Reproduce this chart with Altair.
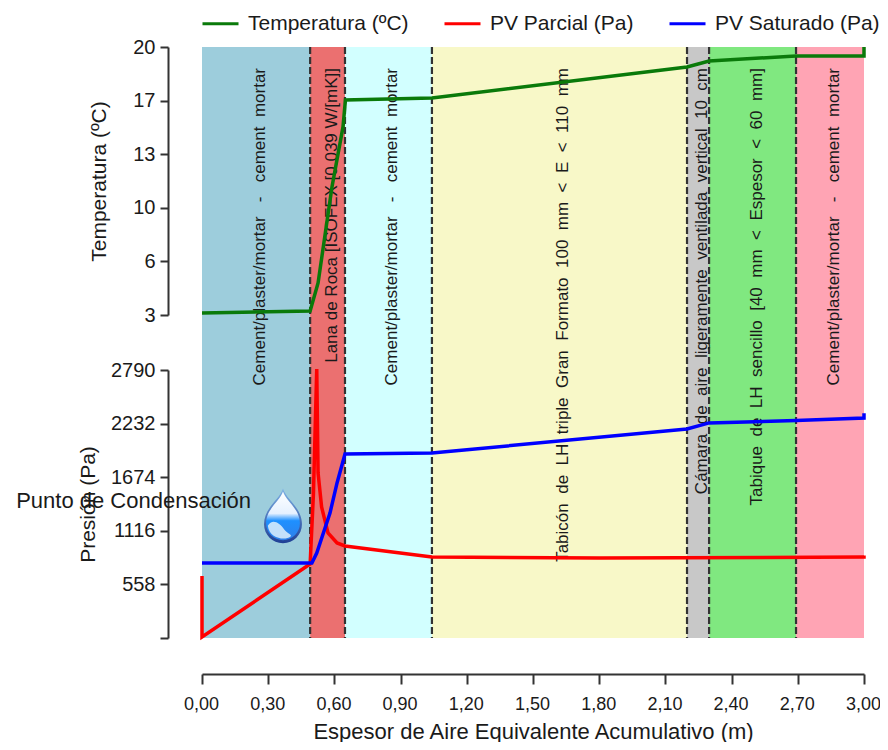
import altair as alt
import pandas as pd

FONT = "Liberation Sans"
INK = "#1a1a1a"
SP = "\u00a0\u00a0"

band_start = [0.0, 0.49, 0.648, 1.042, 2.198, 2.298, 2.692]
band_end = [0.49, 0.648, 1.042, 2.198, 2.298, 2.692, 3.0]
band_colors = ["#9dcddc", "#eb7070", "#d2ffff", "#f8f8c8", "#c8c8c8", "#80e880", "#ffa4b4"]
band_labels = [
    "Cement/plaster/mortar\u00a0\u00a0\u00a0-\u00a0\u00a0\u00a0cement  mortar",
    "Lana de Roca [ISOFEX [0.039 W/[mK]]",
    "Cement/plaster/mortar\u00a0\u00a0\u00a0-\u00a0\u00a0\u00a0cement  mortar",
    "Tabicón  de  LH  triple  Gran  Formato  100  mm  <  E  <  110  mm",
    "Cámara  de  aire  ligeramente  ventilada  vertical  10  cm",
    "Tabique  de  LH  sencillo  [40  mm  <  Espesor  <  60  mm]",
    "Cement/plaster/mortar\u00a0\u00a0\u00a0-\u00a0\u00a0\u00a0cement  mortar",
]
band_labels = [t.replace("  ", SP) for t in band_labels]
boundaries = [0.49, 0.648, 1.042, 2.198, 2.298, 2.692]

temp_x = [0.0, 0.49, 0.526, 0.589, 0.639, 0.65, 1.042, 2.198, 2.298, 2.692, 3.0, 3.0]
temp_y = [3.13, 3.25, 5.03, 11.12, 14.93, 16.64, 16.76, 18.73, 19.11, 19.43, 19.43, 20.0]

parcial_x = [0.0, 0.0, 0.49, 0.505, 0.52, 0.526, 0.542, 0.571, 0.612, 0.648, 1.042, 1.8, 3.0, 3.0]
parcial_y = [645, 10, 770, 1500, 2800, 1718, 1364, 1093, 990, 958, 843, 833, 843, 860]

sat_x = [0.0, 0.498, 0.52, 0.58, 0.612, 0.648, 1.042, 2.198, 2.298, 2.692, 3.0, 3.0]
sat_y = [781, 781, 885, 1301, 1614, 1915, 1926, 2176, 2239, 2264, 2290, 2340]

x_ticks = [0.0, 0.3, 0.6, 0.9, 1.2, 1.5, 1.8, 2.1, 2.4, 2.7, 3.0]
temp_ticks = [3.0, 6.4, 9.8, 13.2, 16.6, 20.0]
pres_ticks = [0, 558, 1116, 1674, 2232, 2790]
series_names = ["Temperatura (ºC)", "PV Parcial (Pa)", "PV Saturado (Pa)"]
series_colors = ["#0a7a0a", "#ff0000", "#0000ff"]

W, H = 662, 591
x_scale = alt.Scale(domain=[0, 3], nice=False, zero=False)
temp_scale = alt.Scale(domain=[3, 20], range=[268, 0], nice=False, zero=False)
pres_scale = alt.Scale(domain=[0, 2790], range=[H, 323], nice=False)
color = alt.Color(
    "series:N",
    scale=alt.Scale(domain=series_names, range=series_colors),
    legend=alt.Legend(
        title=None, orient="none", legendX=-1, legendY=-43, direction="horizontal",
        symbolType="stroke", symbolStrokeWidth=3, symbolSize=1296,
        labelFont=FONT, labelFontSize=21, labelColor=INK, labelOffset=8,
        columnPadding=29, labelLimit=300,
    ),
)

bands = pd.DataFrame({"start": band_start, "end": band_end, "c": band_colors, "t": band_labels,
                      "mid": [(a + b) / 2 for a, b in zip(band_start, band_end)]})
rules = pd.DataFrame({"x": boundaries})


def series_df(xs, ys, name):
    return pd.DataFrame({"x": xs, "y": ys, "series": name, "i": range(len(xs))})


x_axis = alt.Axis(
    values=x_ticks, offset=36, title="Espesor de Aire Equivalente Acumulativo (m)",
    labelExpr="replace(format(datum.value,'.2f'),'.',',')",
    labelFont=FONT, labelFontSize=18, labelColor=INK, titleFont=FONT, titleFontSize=22,
    titleFontWeight="normal", titleColor=INK, domainColor="#333333", domainWidth=2,
    tickColor="#333333", tickWidth=2, tickSize=10, labelPadding=11, titlePadding=8, grid=False,
    labelOverlap=False, labelFlush=False, labelOffset=-1,
)
shared_x = alt.X("x:Q", scale=x_scale, axis=x_axis)

band_layer = alt.Chart(bands).mark_rect(opacity=1).encode(
    x=alt.X("start:Q", scale=x_scale, axis=x_axis),
    x2="end:Q",
    y=alt.value(0),
    y2=alt.value(H),
    fill=alt.Fill("c:N", scale=None),
)
rule_layer = alt.Chart(rules).mark_rule(color="#333333", strokeWidth=2.2, strokeDash=[7, 3]).encode(
    x=shared_x, y=alt.value(0), y2=alt.value(H)
)
text_layer = alt.Chart(bands).mark_text(
    angle=270, align="right", baseline="middle", font=FONT, fontSize=17, color=INK, dx=0, dy=4
).encode(
    x=alt.X("mid:Q", scale=x_scale, axis=x_axis),
    y=alt.value(21),
    text="t:N",
)

axis_common = dict(
    orient="left", offset=34, grid=False, labelFont=FONT, labelFontSize=20, labelColor=INK,
    titleFont=FONT, titleFontSize=21, titleFontWeight="normal", titleColor=INK,
    domainColor="#333333", domainWidth=2, tickColor="#333333", tickWidth=2, tickSize=8,
    labelPadding=5, labelOverlap=False,
)
temp_layer = alt.Chart(series_df(temp_x, temp_y, series_names[0])).mark_line(strokeWidth=3.5).encode(
    x=shared_x,
    y=alt.Y("y:Q", scale=temp_scale, axis=alt.Axis(
        values=temp_ticks, title="Temperatura (ºC)", labelExpr="format(datum.value,'.0f')",
        titlePadding=23, **axis_common)),
    color=color,
    order="i:Q",
)
parcial_layer = alt.Chart(series_df(parcial_x, parcial_y, series_names[1])).mark_line(strokeWidth=3.5).encode(
    x=shared_x,
    y=alt.Y("y:Q", scale=pres_scale, axis=alt.Axis(
        values=pres_ticks, title="Presión (Pa)",
        labelExpr="datum.value == 0 ? '' : format(datum.value,'d')",
        titlePadding=12, **axis_common)),
    color=color,
    order="i:Q",
)
sat_layer = alt.Chart(series_df(sat_x, sat_y, series_names[2])).mark_line(strokeWidth=3.5).encode(
    x=shared_x,
    y=alt.Y("y:Q", scale=pres_scale, axis=None),
    color=color,
    order="i:Q",
)

drop_pos = pd.DataFrame({"x": [0.367], "y": [1270]})
DROP = "M0,-1 C0.12,-0.6 0.69,-0.3 0.69,0.3 A0.69,0.69 0 1 1 -0.69,0.3 C-0.69,-0.3 -0.12,-0.6 0,-1 Z"
SWOOSH = "M-0.62,0.4 C-0.45,0.1 -0.15,0.25 0.05,0.55 C0.2,0.75 0.4,0.75 0.3,0.85 C0.1,1.0 -0.55,0.95 -0.62,0.4 Z"
drop_enc = dict(x=shared_x, y=alt.Y("y:Q", scale=pres_scale, axis=None))
drop_outer = alt.Chart(drop_pos).mark_point(
    shape=DROP, size=3025, filled=True, opacity=1,
    fill=alt.Gradient(gradient="linear", x1=0, y1=0, x2=0, y2=1,
                      stops=[alt.GradientStop(offset=0, color="#7fb2e5"),
                             alt.GradientStop(offset=1, color="#1f3f95")]),
).encode(**drop_enc)
drop_inner = alt.Chart(drop_pos).mark_point(
    shape=DROP, size=2400, filled=True, opacity=1,
    fill=alt.Gradient(gradient="linear", x1=0, y1=0, x2=0, y2=1,
                      stops=[alt.GradientStop(offset=0, color="#ffffff"),
                             alt.GradientStop(offset=0.45, color="#e6f1ff"),
                             alt.GradientStop(offset=0.6, color="#1e90ff"),
                             alt.GradientStop(offset=1, color="#2f7fe8")]),
).encode(**drop_enc)
drop_swoosh = alt.Chart(drop_pos).mark_point(
    shape=SWOOSH, size=2400, filled=True, opacity=0.85, fill="#dff0fb"
).encode(**drop_enc)

label_df = pd.DataFrame({"x": [-0.31], "y": [1426], "t": ["Punto de Condensación"]})
label_layer = alt.Chart(label_df).mark_text(
    font=FONT, fontSize=22, color=INK, align="center", baseline="middle"
).encode(x=shared_x, y=alt.Y("y:Q", scale=pres_scale, axis=None), text="t:N")

chart = alt.layer(
    band_layer, rule_layer, text_layer, temp_layer, parcial_layer, sat_layer,
    drop_outer, drop_inner, drop_swoosh, label_layer,
).resolve_scale(y="independent").properties(
    width=W, height=H,
    autosize=alt.AutoSizeParams(type="none"),
    padding={"left": 194, "top": 39, "right": 16, "bottom": 104},
    background="white",
).configure_view(stroke=None)

chart.save("out.html", embed_options={"renderer": "svg", "actions": False})
